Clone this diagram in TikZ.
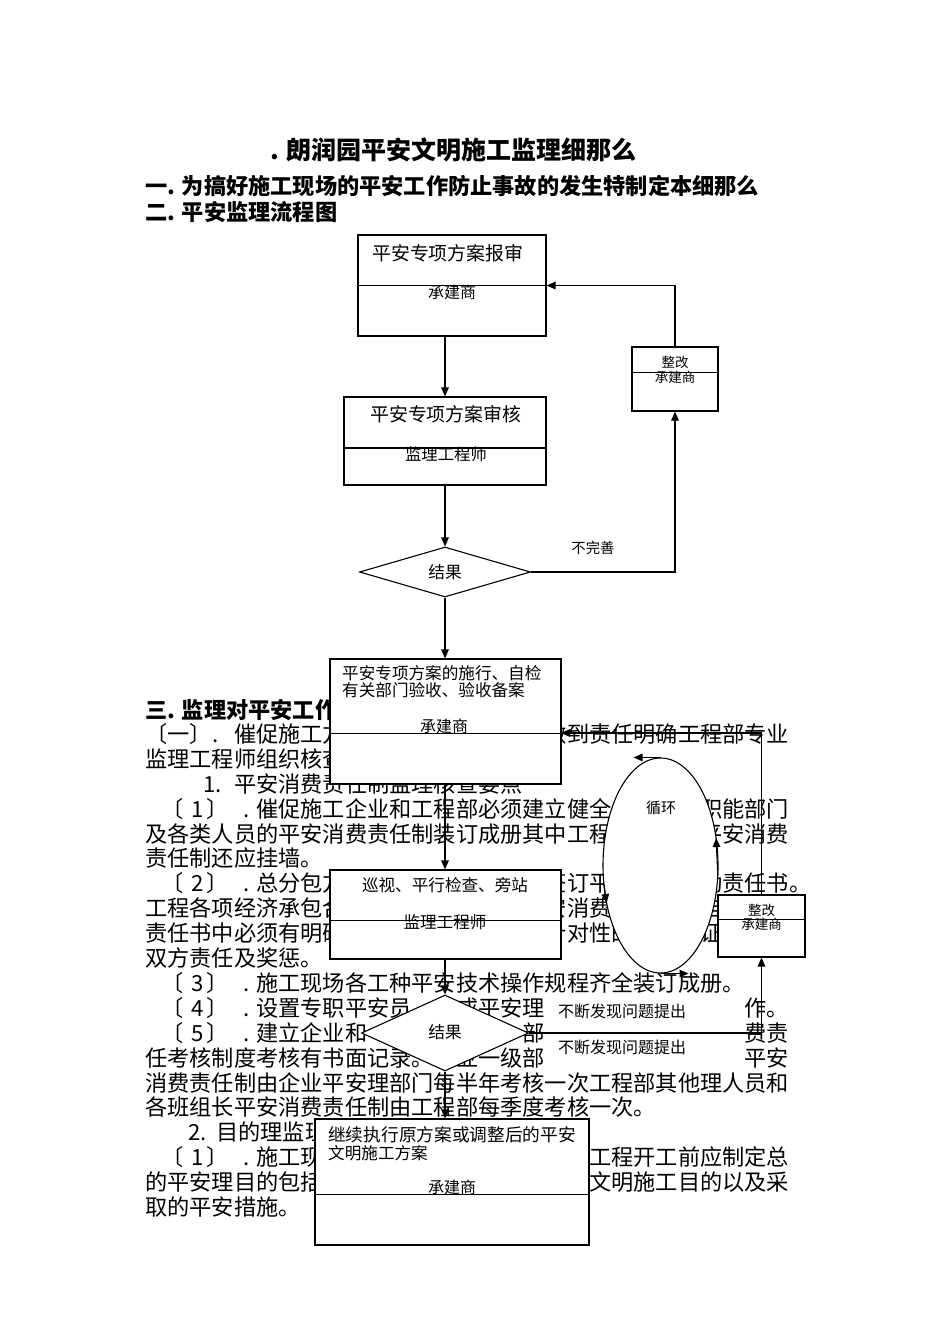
\documentclass[tikz,border=0pt]{standalone}
\usepackage{fontspec}
\setmainfont{Noto Sans CJK SC}
\usetikzlibrary{shapes.geometric,arrows.meta,calc}
\newcommand\myfs[1]{\fontsize{#1}{#1}\selectfont}
\tikzset{
  body/.style={inner sep=0, anchor=base west, font=\myfs{22.2}},
  hd/.style={inner sep=0, anchor=base west, font=\myfs{22.2}\bfseries},
  shp/.style={draw, fill=white, line width=1.1pt, inner sep=0},
  tx/.style={inner sep=0, anchor=base},
  txw/.style={inner sep=0, anchor=base west},
  ln/.style={line width=1.1pt},
  arr/.style={line width=1.1pt, -{Triangle[length=9pt,width=7.5pt]}}
}
\newcommand\bl[4]{\node[body] (#1) at ({145+22.2*#2},{#3+8.4}) {#4};}
\newcommand\px[4]{\node[body] (#1) at ({#2},{#3+8.4}) {#4};}
\newcommand\pre[3]{\px{#1a}{161}{#2}{〔}\px{#1n}{191}{#2}{#3}\px{#1c}{206}{#2}{〕}\px{#1b}{243}{#2}{.}}
\begin{document}
\begin{tikzpicture}[x=1pt,y=-1pt]
\useasboundingbox[fill=white] (0,0) rectangle (950,1344);
% headings
\node[hd] (title) at (270,159.5) {\myfs{25}. 朗润园平安文明施工监理细那么};
\node[hd] (h1) at (145,194.4) {一. 为搞好施工现场的平安工作防止事故的发生特制定本细那么};
\node[hd] (h2) at (145,220.4) {二. 平安监理流程图};
\node[hd] (h3) at (145,718.4) {三. 监理对平安工作};
% body text (only the parts that stay visible)
\px{l1a}{145}{734}{〔一〕}
\px{l1b}{212}{734}{.}
\bl{l1}{4}{734}{催促施工方}
\bl{l1r}{18}{734}{做到责任明确工程部专业}
\bl{l2}{0}{758.9}{监理工程师组织核查}
\px{l3a}{203}{783.8}{1.}
\bl{l3}{4}{783.8}{平安消费责任制监理核查要点}
\pre{l4p}{808.7}{1}
\bl{l4}{5}{808.7}{催促施工企业和工程部必须建立健全}
\bl{l4r}{25}{808.7}{职能部门}
\bl{l5}{0}{833.6}{及各类人员的平安消费责任制装订成册其中工程}
\bl{l5r}{25}{833.6}{平安消费}
\bl{l6}{0}{858.5}{责任制还应挂墙。}
\pre{l7p}{883.4}{2}
\bl{l7}{5}{883.4}{总分包方}
\bl{l7m}{18}{883.4}{签订平}
\bl{l7r}{25}{883.4}{动责任书。}
\bl{l8}{0}{908.3}{工程各项经济承包合}
\bl{l8m}{18}{908.3}{安消费}
\bl{l8r}{25}{908.3}{自}
\bl{l9}{0}{933.2}{责任书中必须有明确}
\bl{l9m}{18}{933.2}{针对性的}
\bl{l9r}{25}{933.2}{证}
\bl{l10}{0}{958.1}{双方责任及奖惩。}
\pre{l11p}{983.0}{3}
\bl{l11}{5}{983.0}{施工现场各工种平安技术操作规程齐全装订成册。}
\pre{l12p}{1007.9}{4}
\bl{l12}{5}{1007.9}{设置专职平安员}
\bl{l12m}{14}{1007.9}{或平安理}
\bl{l12r}{27}{1007.9}{作。}
\pre{l13p}{1032.8}{5}
\bl{l13}{5}{1032.8}{建立企业和}
\bl{l13m}{17}{1032.8}{部}
\bl{l13r}{27}{1032.8}{费责}
\bl{l14}{0}{1057.7}{任考核制度考核有书面记录。}
\bl{l14m}{14}{1057.7}{业一级部}
\bl{l14r}{27}{1057.7}{平安}
\bl{l15}{0}{1082.6}{消费责任制由企业平安理部门每半年考核一次工程部其他理人员和}
\bl{l16}{0}{1107.5}{各班组长平安消费责任制由工程部每季度考核一次。}
\px{l17a}{188}{1132.4}{2.}
\bl{l17}{3.2}{1132.4}{目的理监理}
\pre{l18p}{1157.3}{1}
\bl{l18}{5}{1157.3}{施工现}
\bl{l18r}{20}{1157.3}{工程开工前应制定总}
\bl{l19}{0}{1182.2}{的平安理目的包括}
\bl{l19r}{20}{1182.2}{文明施工目的以及采}
\bl{l20}{0}{1207.1}{取的平安措施。}
% shapes
\node[shp, rectangle, minimum width=188pt, minimum height=101pt] (b1) at (452,285.5) {};
\node[shp, rectangle, minimum width=202pt, minimum height=88pt] (b2) at (445,441) {};
\node[shp, rectangle, minimum width=86pt, minimum height=64pt] (zg1) at (675,379) {};
\node[shp, diamond, minimum width=171pt, minimum height=50pt] (d1) at (445,572) {};
\node[shp, rectangle, minimum width=231pt, minimum height=125pt] (b3) at (445.5,721.5) {};
\node[shp, rectangle, minimum width=231pt, minimum height=89pt] (b4) at (445.5,914.5) {};
\node[shp, diamond, minimum width=167pt, minimum height=76pt] (d2) at (445,1033) {};
\node[shp, rectangle, minimum width=274pt, minimum height=126pt] (b6) at (452,1182) {};
\node[shp, ellipse, minimum width=115pt, minimum height=215pt] (el) at (660.5,865.5) {};
\node[shp, rectangle, minimum width=87pt, minimum height=62pt] (zg2) at (761.5,926) {};
% dividers
\draw[ln] (b1.west) -- (b1.east);
\draw[ln] ($(b2.west)+(0,7)$) -- ($(b2.east)+(0,7)$);
\draw[ln] ($(zg1.north west)+(0,26)$) -- ($(zg1.north east)+(0,26)$);
\draw[ln] ($(b3.north west)+(0,75)$) -- ($(b3.north east)+(0,75)$);
\draw[ln] ($(b4.north west)+(0,51)$) -- ($(b4.north east)+(0,51)$);
\draw[ln] ($(b6.north west)+(0,76)$) -- ($(b6.north east)+(0,76)$);
\draw[ln] ($(zg2.north west)+(0,25)$) -- ($(zg2.north east)+(0,25)$);
% connectors
\coordinate (b3in) at (561,733);
\draw[arr] (b1.south -| b2.north) -- (b2.north);
\draw[arr] (b2.south) -- (d1.north);
\draw[arr] (d1.east) -| (zg1.south);
\draw[arr] (zg1.north) |- (b1.east);
\draw[arr] (d1.south) -- (d1.south |- b3.north);
\draw[arr] (b3.south -| d1.south) -- (b4.north -| d1.south);
\draw[arr] (b4.south -| d2.north) -- (d2.north);
\draw[arr] (d2.south) -- (d2.south |- b6.north);
\draw[arr] (d2.east) -| (zg2.south);
\draw[arr] (zg2.north) |- (b3in);
% cycle arrows on the ellipse
\draw[arr] (el.north) -- ++(-27,0);
\draw[arr] (el.south) -- ++(28,0);
\coordinate (elL) at (603.9,884.2);
\coordinate (elR) at (717.8,874.9);
\draw[arr] (elL) -- (606.6,903);
\draw[arr] (elR) -- (716.1,838);
% texts in shapes
\node[txw, font=\myfs{18.9}] (b1t) at (372,260.2) {平安专项方案报审};
\node[tx, font=\myfs{16}] (b1s) at (452,298.1) {承建商};
\node[txw, font=\myfs{18.9}] (b2t) at (370,421.2) {平安专项方案审核};
\node[tx, font=\myfs{16.4}] (b2s) at (446,460.2) {监理工程师};
\node[tx, font=\myfs{13.5}] (zg1t) at (675,367.1) {整改};
\node[tx, font=\myfs{13.5}] (zg1s) at (675,382.1) {承建商};
\node[tx, font=\myfs{16.7}] (d1t) at (445,578.3) {结果};
\node[tx, font=\myfs{14.4}] (nw) at (593,553.5) {不完善};
\node[txw, font=\myfs{16.6}] (b3t1) at (342,679.3) {平安专项方案的施行、自检};
\node[txw, font=\myfs{16.6}] (b3t2) at (342,696.3) {有关部门验收、验收备案};
\node[tx, font=\myfs{16}] (b3s) at (444,732.1) {承建商};
\node[tx, font=\myfs{16.6}] (b4t) at (445,891.3) {巡视、平行检查、旁站};
\node[tx, font=\myfs{16.6}] (b4s) at (445,928.3) {监理工程师};
\node[tx, font=\myfs{16.7}] (d2t) at (445,1038.3) {结果};
\node[txw, font=\myfs{16}] (q1) at (558,1017.1) {不断发现问题提出};
\node[txw, font=\myfs{16}] (q2) at (558,1053.1) {不断发现问题提出};
\node[tx, font=\myfs{15}] (elt) at (661,813.7) {循环};
\node[tx, font=\myfs{13.5}] (zg2t) at (761.5,915.1) {整改};
\node[tx, font=\myfs{13.5}] (zg2s) at (761.5,929.1) {承建商};
\node[txw, font=\myfs{17.7}] (b6t1) at (328,1141.7) {继续执行原方案或调整后的平安};
\node[txw, font=\myfs{16.6}] (b6t2) at (328,1159.3) {文明施工方案};
\node[tx, font=\myfs{16}] (b6s) at (452,1193.1) {承建商};
\end{tikzpicture}
\end{document}
